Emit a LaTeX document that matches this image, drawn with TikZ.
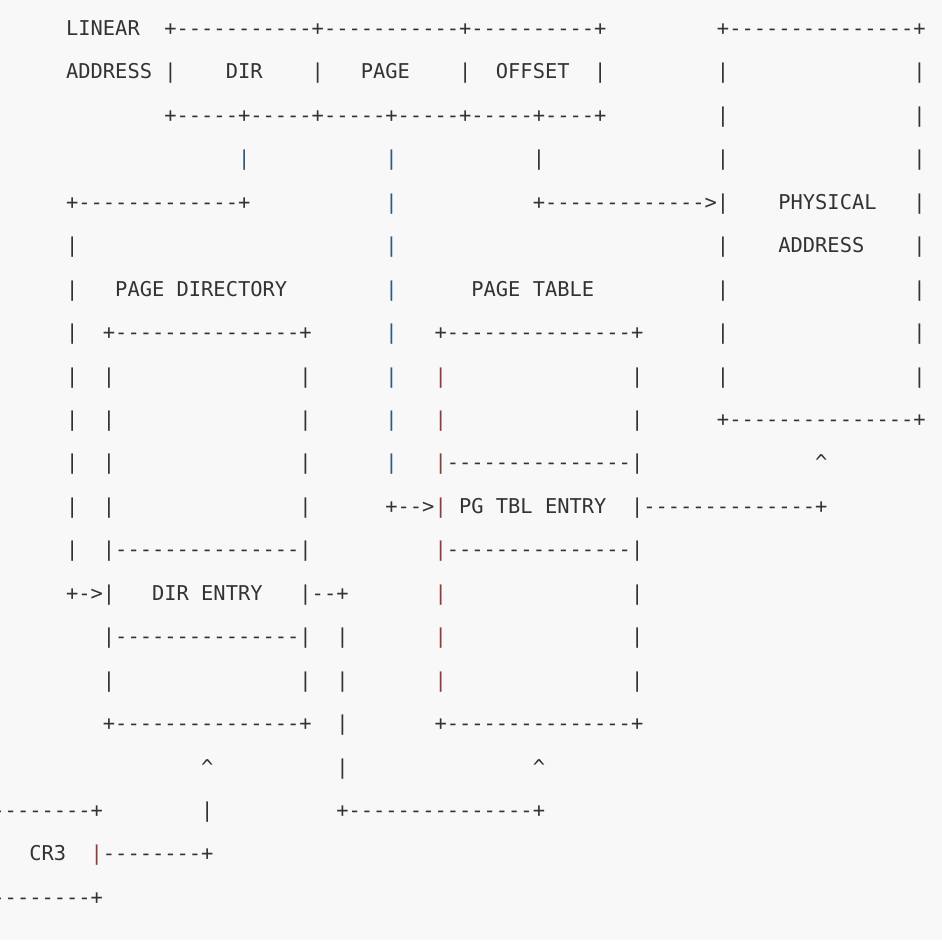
\documentclass[tikz,border=0pt]{standalone}
\usepackage{fontspec}
\setmonofont{DejaVu Sans Mono}
\definecolor{bg}{HTML}{F8F8F8}
\definecolor{ink}{HTML}{333333}
\definecolor{inkred}{HTML}{8E3B3B}
\definecolor{inkblue}{HTML}{2F5A82}
\tikzset{
  asc/.style={anchor=base west, inner sep=0pt, outer sep=0pt, text=ink,
    font=\ttfamily\fontsize{20.4}{20.4}\selectfont},
  rd/.style={text=inkred},
  bl/.style={text=inkblue}
}
% segment: [style] name, column, row, text
\newcommand\sg[5][]{\node[asc,#1] (#2) at ({164.36+12.28*(#3)},{35.4+43.45*((#4)-1)}) {#5};}
\newcommand\caret{\textasciicircum}
\begin{document}
\begin{tikzpicture}[x=1pt,y=-1pt]
\fill[bg] (0,0) rectangle (942,940);
\useasboundingbox (0,0) rectangle (942,940);
\clip (0,0) rectangle (942,940);
% row 1
\sg{r1a}{-8}{1}{LINEAR}
\sg{r1b}{0}{1}{+-----------+-----------+----------+}
\sg{r1c}{45}{1}{+---------------+}
% row 2
\sg{r2a}{-8}{2}{ADDRESS}
\sg{r2b}{0}{2}{|}
\sg{r2c}{5}{2}{DIR}
\sg{r2d}{12}{2}{|}
\sg{r2e}{16}{2}{PAGE}
\sg{r2f}{24}{2}{|}
\sg{r2g}{27}{2}{OFFSET}
\sg{r2h}{35}{2}{|}
\sg{r2i}{45}{2}{|}
\sg{r2j}{61}{2}{|}
% row 3
\sg{r3a}{0}{3}{+-----+-----+-----+-----+-----+----+}
\sg{r3b}{45}{3}{|}
\sg{r3c}{61}{3}{|}
% row 4
\sg[bl]{r4a}{6}{4}{|}
\sg[bl]{r4b}{18}{4}{|}
\sg{r4c}{30}{4}{|}
\sg{r4d}{45}{4}{|}
\sg{r4e}{61}{4}{|}
% row 5
\sg{r5a}{-8}{5}{+-------------+}
\sg[bl]{r5b}{18}{5}{|}
\sg{r5c}{30}{5}{+------------->}
\sg{r5d}{45}{5}{|}
\sg{r5e}{50}{5}{PHYSICAL}
\sg{r5f}{61}{5}{|}
% row 6
\sg{r6a}{-8}{6}{|}
\sg[bl]{r6b}{18}{6}{|}
\sg{r6c}{45}{6}{|}
\sg{r6d}{50}{6}{ADDRESS}
\sg{r6e}{61}{6}{|}
% row 7
\sg{r7a}{-8}{7}{|}
\sg{r7b}{-4}{7}{PAGE DIRECTORY}
\sg[bl]{r7c}{18}{7}{|}
\sg{r7d}{25}{7}{PAGE TABLE}
\sg{r7e}{45}{7}{|}
\sg{r7f}{61}{7}{|}
% row 8
\sg{r8a}{-8}{8}{|}
\sg{r8b}{-5}{8}{+---------------+}
\sg[bl]{r8c}{18}{8}{|}
\sg{r8d}{22}{8}{+---------------+}
\sg{r8e}{45}{8}{|}
\sg{r8f}{61}{8}{|}
% row 9
\sg{r9a}{-8}{9}{|}
\sg{r9b}{-5}{9}{|}
\sg{r9c}{11}{9}{|}
\sg[bl]{r9d}{18}{9}{|}
\sg[rd]{r9e}{22}{9}{|}
\sg{r9f}{38}{9}{|}
\sg{r9g}{45}{9}{|}
\sg{r9h}{61}{9}{|}
% row 10
\sg{r10a}{-8}{10}{|}
\sg{r10b}{-5}{10}{|}
\sg{r10c}{11}{10}{|}
\sg[bl]{r10d}{18}{10}{|}
\sg[rd]{r10e}{22}{10}{|}
\sg{r10f}{38}{10}{|}
\sg{r10g}{45}{10}{+---------------+}
% row 11
\sg{r11a}{-8}{11}{|}
\sg{r11b}{-5}{11}{|}
\sg{r11c}{11}{11}{|}
\sg[bl]{r11d}{18}{11}{|}
\sg[rd]{r11e}{22}{11}{|}
\sg{r11f}{23}{11}{---------------|}
\sg{r11g}{53}{11}{\caret}
% row 12
\sg{r12a}{-8}{12}{|}
\sg{r12b}{-5}{12}{|}
\sg{r12c}{11}{12}{|}
\sg{r12d}{18}{12}{+-->}
\sg[rd]{r12e}{22}{12}{|}
\sg{r12f}{24}{12}{PG TBL ENTRY}
\sg{r12g}{38}{12}{|--------------+}
% row 13
\sg{r13a}{-8}{13}{|}
\sg{r13b}{-5}{13}{|---------------|}
\sg[rd]{r13c}{22}{13}{|}
\sg{r13d}{23}{13}{---------------|}
% row 14
\sg{r14a}{-8}{14}{+->|}
\sg{r14b}{-1}{14}{DIR ENTRY}
\sg{r14c}{11}{14}{|--+}
\sg[rd]{r14d}{22}{14}{|}
\sg{r14e}{38}{14}{|}
% row 15
\sg{r15a}{-5}{15}{|---------------|}
\sg{r15b}{14}{15}{|}
\sg[rd]{r15c}{22}{15}{|}
\sg{r15d}{38}{15}{|}
% row 16
\sg{r16a}{-5}{16}{|}
\sg{r16b}{11}{16}{|}
\sg{r16c}{14}{16}{|}
\sg[rd]{r16d}{22}{16}{|}
\sg{r16e}{38}{16}{|}
% row 17
\sg{r17a}{-5}{17}{+---------------+}
\sg{r17b}{14}{17}{|}
\sg{r17c}{22}{17}{+---------------+}
% row 18
\sg{r18a}{3}{18}{\caret}
\sg{r18b}{14}{18}{|}
\sg{r18c}{30}{18}{\caret}
% row 19
\sg{r19a}{-14}{19}{--------+}
\sg{r19b}{3}{19}{|}
\sg{r19c}{14}{19}{+---------------+}
% row 20
\sg{r20a}{-11}{20}{CR3}
\sg[rd]{r20b}{-6}{20}{|}
\sg{r20c}{-5}{20}{--------+}
% row 21
\sg{r21a}{-14}{21}{--------+}
\end{tikzpicture}
\end{document}
